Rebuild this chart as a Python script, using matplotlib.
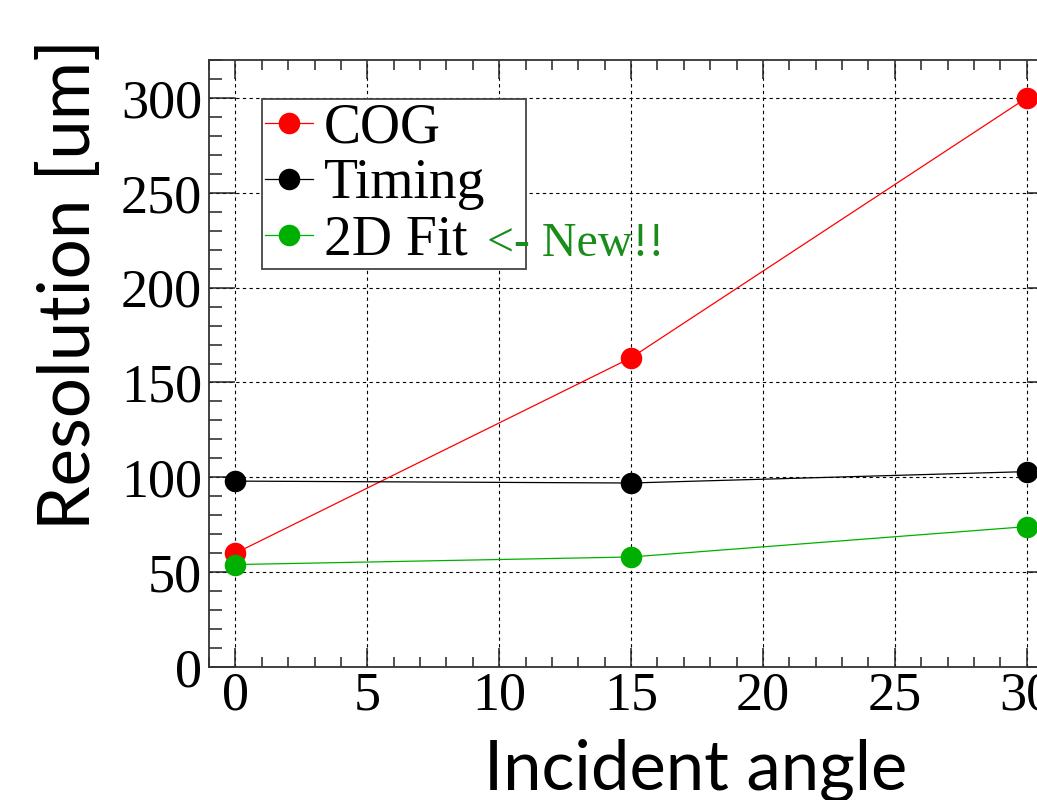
import matplotlib
matplotlib.use('Agg')
import matplotlib.pyplot as plt
from matplotlib.ticker import MultipleLocator

# incident angle [deg]
angles = [0, 15, 30]
# resolution [um]
cog = [60, 163, 300]
timing = [98, 97, 103]
fit2d = [54, 58, 74]

series_names = ['COG', 'Timing', '2D Fit']
series_colors = ['#ff0000', '#000000', '#00b000']

W, H = 1037, 800
fig = plt.figure(figsize=(W / 100, H / 100), dpi=100)

# axes run past the right edge of the picture (the 30 label is cut off)
ax = fig.add_axes([209 / W, 133 / H, 844 / W, 607 / H])

for vals, name, col in zip([cog, timing, fit2d], series_names, series_colors):
    ax.plot(angles, vals, color=col, lw=0.9, marker='o', markersize=15.5,
            markeredgewidth=0, label=name, clip_on=False, zorder=3)

ax.set_xlim(-1, 31)
ax.set_ylim(0, 320)
ax.xaxis.set_major_locator(MultipleLocator(5))
ax.xaxis.set_minor_locator(MultipleLocator(1))
ax.yaxis.set_major_locator(MultipleLocator(50))
ax.yaxis.set_minor_locator(MultipleLocator(10))

ax.tick_params(which='both', direction='in', top=True, right=True,
               colors='#222222', width=1.1)
ax.tick_params(axis='x', which='major', length=14, pad=3)
ax.tick_params(axis='x', which='minor', length=7)
ax.tick_params(axis='y', which='major', length=19, pad=5)
ax.tick_params(axis='y', which='minor', length=9)
for lab in ax.get_xticklabels() + ax.get_yticklabels():
    lab.set_fontfamily('Liberation Serif')
    lab.set_fontsize(39)
    lab.set_color('black')

ax.grid(True, which='major', color='black', lw=0.8, ls=(0, (3, 3)))
ax.set_axisbelow(True)
for sp in ax.spines.values():
    sp.set_color('#333333')
    sp.set_linewidth(1.3)

# legend box spans x 262..526 px, top at 99 px
leg = ax.legend(loc='upper left', mode='expand',
                bbox_to_anchor=(262 / W, 1 - 269 / H, 264 / W, 170 / H),
                bbox_transform=fig.transFigure, borderaxespad=0,
                prop={'family': 'Liberation Serif', 'size': 40},
                handlelength=0.85, handletextpad=0.2, labelspacing=0.07,
                borderpad=0.06, fancybox=False, framealpha=1, edgecolor='#444444')
leg.get_frame().set_linewidth(1.3)

fig.text(487 / W, 1 - 256 / H, '<- New!!', color='#1a8c1a',
         family='Liberation Serif', fontsize=34.5, va='baseline', ha='left')

fig.text(696 / W, 1 - 790 / H, 'Incident angle', family='Lato', fontsize=49.5,
         ha='center', va='baseline')
fig.text(90 / W, 1 - 285 / H, 'Resolution [um]', family='Lato', fontsize=51,
         rotation=90, rotation_mode='anchor', ha='center', va='baseline')

fig.savefig('out.png', dpi=100)
